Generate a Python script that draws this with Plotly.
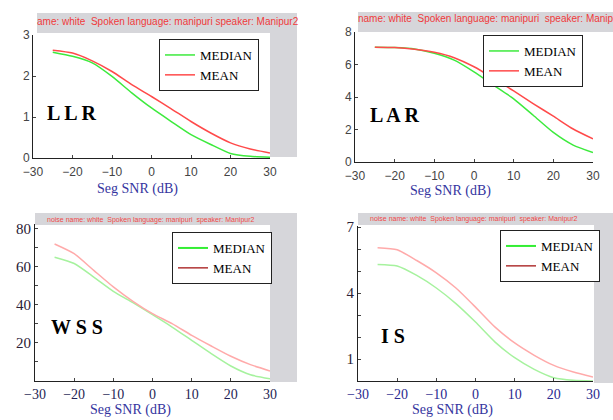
import plotly.graph_objects as go

snr = [-25, -20, -15, -10, -5, 0, 5, 10, 15, 20, 25, 30]

llr_median = [2.58, 2.48, 2.32, 1.99, 1.59, 1.22, 0.89, 0.57, 0.33, 0.11, 0.04, 0.02]
llr_mean = [2.63, 2.56, 2.37, 2.11, 1.79, 1.50, 1.20, 0.89, 0.61, 0.37, 0.22, 0.12]

lar_median = [7.06, 7.04, 6.96, 6.69, 6.27, 5.55, 4.72, 3.89, 2.86, 1.82, 1.04, 0.58]
lar_mean = [7.06, 7.04, 6.94, 6.75, 6.42, 5.86, 5.14, 4.37, 3.58, 2.82, 2.03, 1.42]

wss_median = [65.1, 61.8, 54.7, 47.2, 41.2, 34.9, 28.4, 21.4, 14.4, 7.9, 3.3, 1.2]
wss_mean = [72.1, 67.0, 58.2, 49.5, 41.9, 35.4, 30.2, 24.0, 18.4, 13.0, 8.6, 5.3]

is_median = [5.30, 5.23, 4.80, 4.23, 3.52, 2.68, 1.77, 1.06, 0.53, 0.15, 0.03, 0.0]
is_mean = [6.06, 5.97, 5.48, 4.92, 4.23, 3.36, 2.45, 1.73, 1.17, 0.71, 0.41, 0.18]

x_ticks = [-30, -20, -10, 0, 10, 20, 30]
llr_ticks = [0, 1, 2, 3]
lar_ticks = [0, 2, 4, 6, 8]
wss_ticks = [10, 20, 30, 40, 50, 60, 70, 80]
wss_ticktext = ["", "20", "", "40", "", "60", "", "80"]
is_ticks = [0, 1, 2, 3, 4, 5, 6, 7]
is_ticktext = ["", "1", "", "", "4", "", "", "7"]

subtitle_top_left = "ame: white  Spoken language: manipuri speaker: Manipur2"
subtitle_top_right = "name: white  Spoken language: manipuri  speaker: Manipur2"
subtitle_bottom = "noise name: white  Spoken language: manipuri  speaker: Manipur2"
x_title = "Seg SNR (dB)"
measures = ["L L R", "L A R", "W S S", "I S"]

W, H = 613, 420
def px(x):
    return x / W
def py(y):
    return 1 - y / H

GREEN = "#3dea3d"
RED = "#ff4a4a"
PGREEN = "#a6f29e"
PRED = "#ffaaaa"
DRED = "#b03434"
SERIF = "Liberation Serif, Times New Roman, serif"
SANS = "Liberation Sans, Arial, sans-serif"

fig = go.Figure()

panels = [
    ("x", "y", llr_median, llr_mean, GREEN, RED, "legend"),
    ("x2", "y2", lar_median, lar_mean, GREEN, RED, "legend2"),
    ("x3", "y3", wss_median, wss_mean, PGREEN, PRED, "legend3"),
    ("x4", "y4", is_median, is_mean, PGREEN, PRED, "legend4"),
]
for i, (xa, ya, med, mn, cg, cr, lg) in enumerate(panels):
    top = i < 2
    fig.add_trace(go.Scatter(x=snr, y=med, mode="lines", name="MEDIAN",
                             line=dict(color=cg, width=1.5, shape="spline", smoothing=0.6),
                             xaxis=xa, yaxis=ya, legend=lg, showlegend=top))
    fig.add_trace(go.Scatter(x=snr, y=mn, mode="lines", name="MEAN",
                             line=dict(color=cr, width=1.5, shape="spline", smoothing=0.6),
                             xaxis=xa, yaxis=ya, legend=lg, showlegend=top))
    if not top:
        fig.add_trace(go.Scatter(x=[None], y=[None], mode="lines", name="MEDIAN",
                                 line=dict(color="#33ee33", width=2),
                                 xaxis=xa, yaxis=ya, legend=lg))
        fig.add_trace(go.Scatter(x=[None], y=[None], mode="lines", name="MEAN",
                                 line=dict(color=DRED, width=1.5),
                                 xaxis=xa, yaxis=ya, legend=lg))

gray = "#d6d6da"
rects = [
    (37, 13, 297, 33), (270, 33, 297, 157),
    (358, 12, 613, 32),
    (35, 213, 297, 225), (270, 225, 297, 382),
    (358, 213, 613, 225), (594, 225, 613, 383),
]
shapes = []
for x0, y0, x1, y1 in rects:
    shapes.append(dict(type="rect", xref="paper", yref="paper", x0=px(x0), x1=px(x1),
                       y0=py(y1), y1=py(y0), fillcolor=gray, line=dict(width=0), layer="below"))

def axis_common(domain, font, tickvals, anchor, ticktext=None, standoff=0):
    d = dict(domain=domain, anchor=anchor, showgrid=False, zeroline=False, showline=True,
             linecolor="#222", linewidth=1, ticks="inside", ticklen=3, tickcolor="#444",
             tickvals=tickvals, tickfont=font, fixedrange=True, automargin=False,
             ticklabelstandoff=standoff)
    if ticktext is not None:
        d["ticktext"] = ticktext
    return d

top_font = dict(family=SANS, size=12, color="#444")
bx_font = dict(family=SERIF, size=14, color="#1f1f55")
bx2_font = dict(family=SERIF, size=14, color="#2a2a90")
by_font = dict(family=SERIF, size=15, color="#2a2035")

layout = dict(
    template="none",
    width=W, height=H, autosize=False,
    margin=dict(l=0, r=0, t=0, b=0, pad=0, autoexpand=False),
    paper_bgcolor="white", plot_bgcolor="white",
    xaxis=dict(**axis_common([px(33), px(270)], top_font, x_ticks, "y", standoff=3), range=[-30, 30]),
    yaxis=dict(**axis_common([py(158), py(35)], top_font, llr_ticks, "x"), range=[0, 3]),
    xaxis2=dict(**axis_common([px(355), px(593)], top_font, x_ticks, "y2", standoff=3), range=[-30, 30]),
    yaxis2=dict(**axis_common([py(162), py(32)], top_font, lar_ticks, "x2"), range=[0, 8]),
    xaxis3=dict(**axis_common([px(35), px(270)], bx_font, x_ticks, "y3"), range=[-30, 30]),
    yaxis3=dict(**axis_common([py(381), py(224)], by_font, wss_ticks, "x3", wss_ticktext), range=[0, 82.6]),
    xaxis4=dict(**axis_common([px(358), px(593)], bx2_font, x_ticks, "y4"), range=[-30, 30]),
    yaxis4=dict(**axis_common([py(381), py(226)], by_font, is_ticks, "x4", is_ticktext), range=[0, 7.05]),
    shapes=shapes,
)

leg_common = dict(bgcolor="white", bordercolor="#222", borderwidth=1,
                  font=dict(family=SERIF, size=13, color="black"),
                  xanchor="left", yanchor="top", tracegroupgap=0, itemwidth=30)
layout["legend"] = dict(**leg_common, x=px(159), y=py(39))
layout["legend2"] = dict(**leg_common, x=px(483), y=py(35))
layout["legend3"] = dict(**leg_common, x=px(172), y=py(232))
layout["legend4"] = dict(**leg_common, x=px(500), y=py(230))

fig.update_layout(**layout)

ann = []
def add_text(text, x, y, font, xanchor="center"):
    ann.append(dict(text=text, x=px(x), y=py(y), xref="paper", yref="paper",
                    showarrow=False, xanchor=xanchor, yanchor="middle", font=font))

red_font = dict(family=SANS, size=10, color="#f03a3a")
small_red = dict(family=SANS, size=7, color="#f04848")
add_text(subtitle_top_left, 168, 21, red_font)
add_text(subtitle_top_right, 493, 19, red_font)
add_text(subtitle_bottom, 151, 220, small_red)
add_text(subtitle_bottom, 474, 219, small_red)

xt_font = dict(family=SERIF, size=14, color="#3535a0")
add_text(x_title, 137, 189, xt_font)
add_text(x_title, 450, 191, xt_font)
add_text(x_title, 130, 410, xt_font)
add_text(x_title, 452, 410, xt_font)

big = dict(family=SERIF, size=20, color="black", weight="bold")
add_text(measures[0], 45, 113, big, "left")
add_text(measures[1], 368, 115, big, "left")
add_text(measures[2], 49, 327, big, "left")
add_text(measures[3], 379, 336, big, "left")

fig.update_layout(annotations=ann)
fig.write_html("out.html", config={"displayModeBar": False},
               post_script="document.body.style.margin='0';")
